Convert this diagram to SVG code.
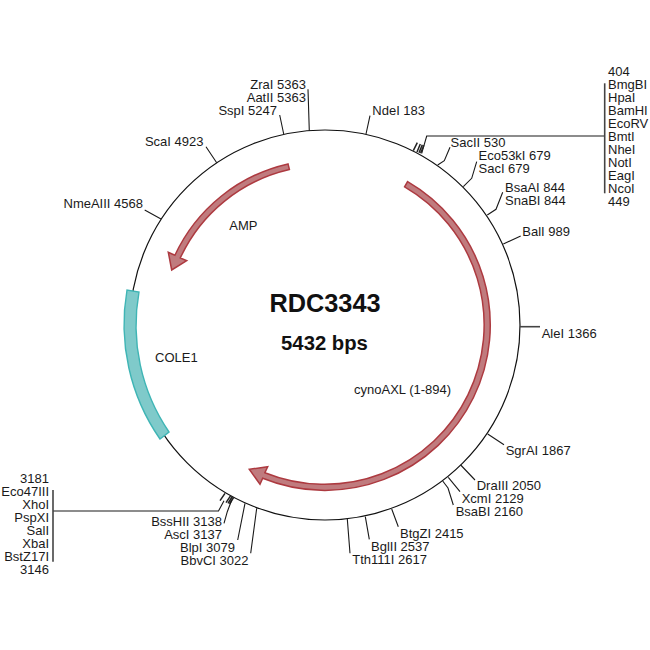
<svg xmlns="http://www.w3.org/2000/svg" width="650" height="650" viewBox="0 0 650 650">
<style>
text{font-family:"Liberation Sans",Arial,sans-serif;font-size:13px;fill:#1a1a1a}
.e{text-anchor:end}
.t{font-weight:bold;text-anchor:middle;fill:#111}
.l{fill:none;stroke:#1a1a1a;stroke-width:1.1}
.k{fill:none;stroke:#222;stroke-width:1.5}
.v{fill:none;stroke:#444;stroke-width:1.6}
.r{fill:#c07b7e;stroke:#ad3a40;stroke-width:1.5}
</style>
<rect width="650" height="650" fill="#fff"/>
<g id="backbone"><circle cx="325" cy="325" r="195" fill="none" stroke="#111" stroke-width="1.2"/></g>
<g id="connectors">
<path class="l" d="M366,134L370,115.7M309.3,131L308,89.3M283.7,134L279.7,115M216.7,162.7L206,146.7M161,219L144.7,210"/>
<path class="l" d="M421.7,153.3L426.7,136H604.7"/>
<path class="v" d="M604.7,83.3V193.3"/>
<path class="k" d="M413.3,150.7L417.3,142.7M417,152L420.3,144M419,152.7L422.3,144.7M420.6,153.2L423.9,145.2"/>
<path class="l" d="M437.7,165L444.3,160.7L450,147.3M463.3,186.7L471.7,178.3L476.7,161.7M487.3,215L496,209.3L502.7,192.3"/>
<path class="l" d="M503.3,244L520.7,236M487.7,434L504,444.7M460.7,465L475,480M448.3,477.3L460,491.7M442.7,481L448,488L453.3,505M391.7,509L398.3,526.7M365.3,516.7L369.3,539.3M347.3,519L350,553.3"/>
<path class="v" d="M520,326.7H540"/>
<path class="l" d="M53,511H218.5L224,500.7"/>
<path class="v" d="M53,490V561.7"/>
<path class="k" d="M220,500.7L225,493.3M226,502.7L230.7,495.7M228,503.3L232.3,496.5M229.6,504L233.7,497.3"/>
<path class="l" d="M231.7,500L227.3,511.7L224,523.3M245,503.3L237.7,540M256.7,508.3L250.7,553.3"/>
</g>
<g id="cynoAXL"><path class="r" d="M407.6,181.6A165.5,165.5 0 0 1 262.7,478.3L260,484.3L249.3,469.3L267.7,466.7L264.9,472.7A159.5,159.5 0 0 0 404.6,186.8Z"/><text x="354" y="394">cynoAXL (1-894)</text></g>
<g id="AMP"><path class="r" d="M288,163.9A165.5,165.5 0 0 0 174.9,255.3L168.3,252.3L171.7,270L186.7,260.7L180.3,257.9A159.5,159.5 0 0 1 289.4,169.5Z"/><text x="229.3" y="229.5">AMP</text></g>
<g id="COLE1"><path d="M127,290A201,201 0 0 0 160,439L169,432A189,189 0 0 1 139,292Z" fill="#7fcaca" stroke="#3fb5b5" stroke-width="1.4"/><text x="155" y="361.5">COLE1</text></g>
<g id="title"><text class="t" x="325" y="311.5" style="font-size:25.3px">RDC3343</text><text class="t" x="324.5" y="350" style="font-size:20.3px">5432 bps</text></g>
<g id="labels-top">
<text class="e" x="306" y="89">ZraI 5363</text>
<text class="e" x="306" y="102">AatII 5363</text>
<text class="e" x="277" y="115">SspI 5247</text>
<text x="372.3" y="115">NdeI 183</text>
<text class="e" x="203.5" y="146">ScaI 4923</text>
<text class="e" x="143" y="208">NmeAIII 4568</text>
</g>
<g id="labels-right">
<text x="450.5" y="147.3">SacII 530</text>
<text x="478.5" y="160">Eco53kI 679</text>
<text x="478.5" y="173">SacI 679</text>
<text x="505" y="192">BsaAI 844</text>
<text x="505" y="205">SnaBI 844</text>
<text x="522.3" y="235.7">BalI 989</text>
<text x="541.7" y="338">AleI 1366</text>
<text x="505.7" y="455">SgrAI 1867</text>
<text x="476.7" y="490">DraIII 2050</text>
<text x="461.7" y="503">XcmI 2129</text>
<text x="455.7" y="516">BsaBI 2160</text>
<text x="400" y="538">BtgZI 2415</text>
<text x="371" y="551">BglII 2537</text>
<text x="352.3" y="564">Tth111I 2617</text>
</g>
<g id="cluster-top">
<text x="608" y="76">404</text><text x="608" y="89">BmgBI</text><text x="608" y="102">HpaI</text><text x="608" y="115">BamHI</text><text x="608" y="128">EcoRV</text><text x="608" y="141">BmtI</text><text x="608" y="154">NheI</text><text x="608" y="167">NotI</text><text x="608" y="180">EagI</text><text x="608" y="193">NcoI</text><text x="608" y="206">449</text>
</g>
<g id="cluster-bottom">
<text class="e" x="49" y="483">3181</text><text class="e" x="49" y="496">Eco47III</text><text class="e" x="49" y="509">XhoI</text><text class="e" x="49" y="522">PspXI</text><text class="e" x="49" y="535">SalI</text><text class="e" x="49" y="548">XbaI</text><text class="e" x="49" y="561">BstZ17I</text><text class="e" x="49" y="574">3146</text>
<text class="e" x="222" y="526">BssHII 3138</text>
<text class="e" x="222" y="539">AscI 3137</text>
<text class="e" x="235" y="552">BlpI 3079</text>
<text class="e" x="248.5" y="565">BbvCI 3022</text>
</g>
</svg>
